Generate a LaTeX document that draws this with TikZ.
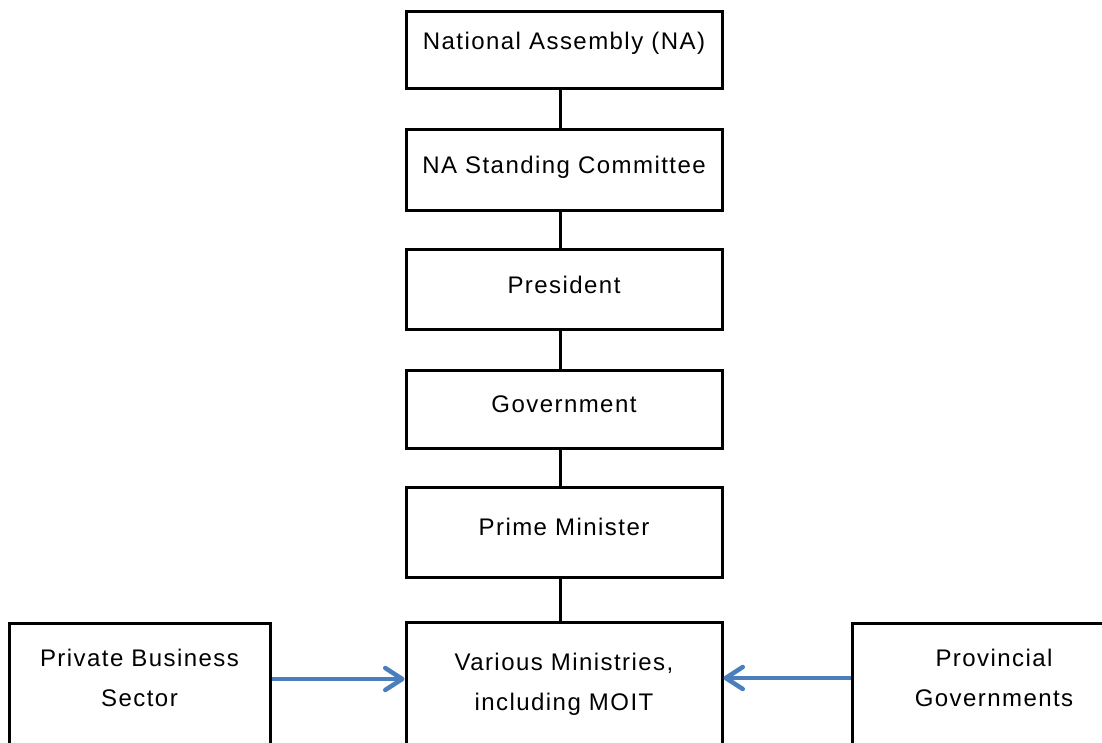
\documentclass[tikz,border=0pt]{standalone}
\usepackage{fontspec}
\newfontfamily\lblfont[LetterSpace=6]{Liberation Sans}
\usetikzlibrary{arrows.meta}
\definecolor{arrowblue}{RGB}{74,126,189}
\newcommand\twolines[2]{\raisebox{#1}[0pt][0pt]{\begin{tabular}{@{}c@{}}#2\end{tabular}}}
\begin{document}
\begin{tikzpicture}[x=1pt,y=-1pt,
  orgbox/.style={draw=black, line width=3pt, minimum width=316pt, inner sep=2pt,
    font=\lblfont\fontsize{24}{40}\selectfont, text height=17pt, text depth=10pt},
  lowbox/.style={draw=black, line width=3pt, anchor=north, minimum height=130pt, inner sep=0pt,
    font=\lblfont\fontsize{24}{40}\selectfont},
  conn/.style={line width=3pt, draw=black},
  flow/.style={line width=4.5pt, draw=arrowblue, -{Straight Barb[length=17pt,width=22pt,round]}}]
\useasboundingbox (0,0) rectangle (1102,743);
\clip (0,0) rectangle (1102,743);
\node[orgbox, minimum height=77pt, text depth=18pt] (na) at (564,50.5) {National Assembly (NA)};
\node[orgbox, minimum height=81pt] (nas) at (564,170.5) {NA Standing Committee};
\node[orgbox, minimum height=79pt] (pres) at (564,289.5) {President};
\node[orgbox, minimum height=78pt] (gov) at (564,409) {Government};
\node[orgbox, minimum height=90pt] (pm) at (564,532) {Prime Minister};
\node[lowbox, minimum width=316pt] (min) at (564,621) {\twolines{-1.5pt}{Various Ministries,\\including MOIT}};
\node[lowbox, minimum width=261pt] (pbs) at (139.5,622) {\twolines{4pt}{Private Business\\Sector}};
\node[lowbox, minimum width=284pt] (prov) at (994,622) {\twolines{4pt}{Provincial\\Governments}};
\coordinate (ly) at (0,679);
\coordinate (ry) at (0,678);
\draw[conn] ([xshift=-4pt]na.south) -- ([xshift=-4pt]nas.north);
\draw[conn] ([xshift=-4pt]nas.south) -- ([xshift=-4pt]pres.north);
\draw[conn] ([xshift=-4pt]pres.south) -- ([xshift=-4pt]gov.north);
\draw[conn] ([xshift=-4pt]gov.south) -- ([xshift=-4pt]pm.north);
\draw[conn] ([xshift=-4pt]pm.south) -- ([xshift=-4pt]min.north);
\draw[flow] (pbs.east |- ly) -- (min.west |- ly);
\draw[flow] (prov.west |- ry) -- (min.east |- ry);
\end{tikzpicture}
\end{document}
